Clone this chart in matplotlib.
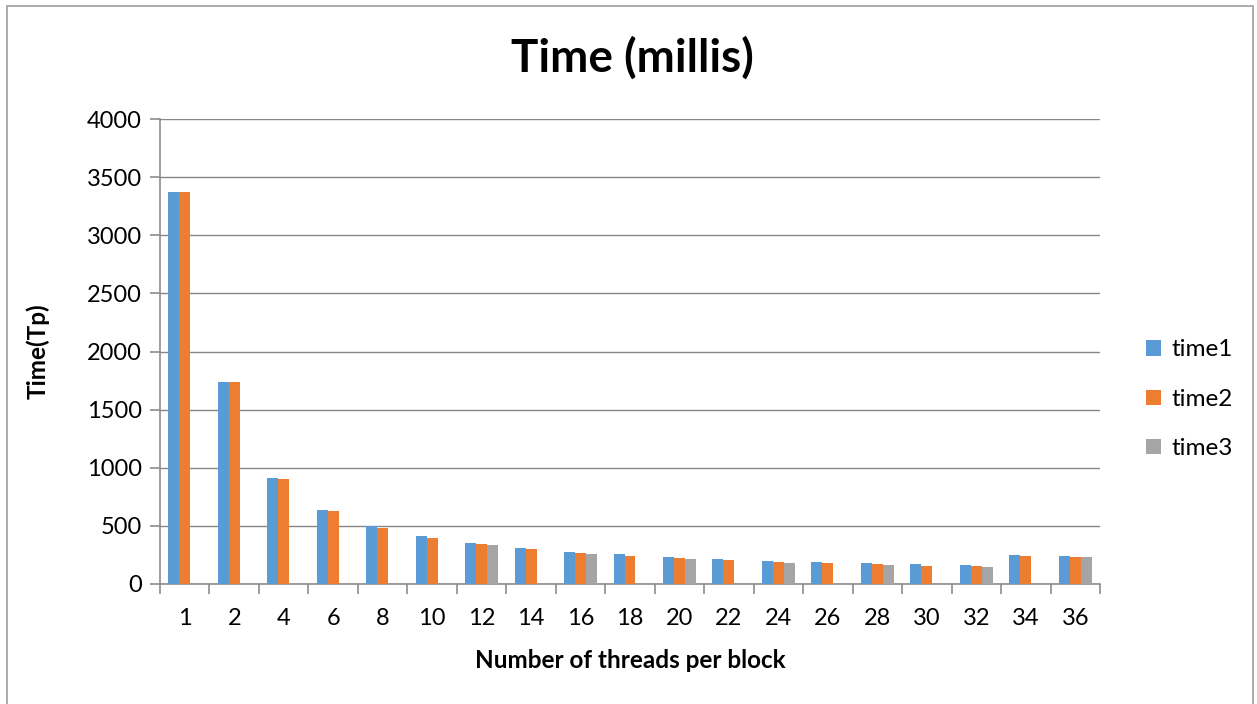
import matplotlib
matplotlib.use("Agg")
import matplotlib.pyplot as plt
import numpy as np
from matplotlib.patches import Rectangle

categories = ["1", "2", "4", "6", "8", "10", "12", "14", "16", "18",
              "20", "22", "24", "26", "28", "30", "32", "34", "36"]
time1 = [3370, 1740, 914, 636, 498, 410, 352, 313, 278, 255,
         229, 215, 201, 186, 178, 169, 161, 252, 244]
time2 = [3370, 1740, 903, 625, 485, 399, 341, 298, 264, 238,
         221, 204, 192, 178, 169, 158, 152, 244, 235]
time3 = [np.nan, np.nan, np.nan, np.nan, np.nan, np.nan, 338, np.nan, 261, np.nan,
         215, np.nan, 184, np.nan, 161, np.nan, 146, np.nan, 229]
yticks = [0, 500, 1000, 1500, 2000, 2500, 3000, 3500, 4000]

plt.rcParams['font.family'] = ['Lato', 'DejaVu Sans']

W, H = 1257, 704
fig = plt.figure(figsize=(W / 100, H / 100), dpi=100)
fig.patch.set_facecolor("white")

# chart frame
fig.patches.append(Rectangle((7 / W, -0.05), (1253 - 7) / W, 1 - 6 / H + 0.05,
                             transform=fig.transFigure, fill=False,
                             edgecolor="#A6A6A6", linewidth=1.3))

ax = fig.add_axes([160 / W, 1 - 584 / H, (1100 - 160) / W, (584 - 119) / H])
x = np.arange(len(categories))
w = 1 / 4.5
ax.bar(x - w, time1, w, color="#5B9BD5", label="time1", zorder=3)
ax.bar(x, time2, w, color="#ED7D31", label="time2", zorder=3)
ax.bar(x + w, time3, w, color="#A5A5A5", label="time3", zorder=3)

ax.set_xlim(-0.5, len(categories) - 0.5)
ax.set_ylim(0, 4000)
ax.set_yticks(yticks)
ax.set_yticklabels([str(v) for v in yticks])
ax.yaxis.grid(True, color="#868686", linewidth=1.0, zorder=0)
ax.set_xticks(x)
ax.set_xticklabels(categories)
ax.set_xticks(np.arange(len(categories) + 1) - 0.5, minor=True)
ax.tick_params(axis="x", which="major", length=0, labelsize=17, pad=17)
ax.tick_params(axis="x", which="minor", length=7, color="#8C8C8C", width=1.2)
ax.tick_params(axis="y", length=7, color="#8C8C8C", width=1.2, labelsize=17, pad=6)

for s in ["top", "right"]:
    ax.spines[s].set_visible(False)
for s in ["left", "bottom"]:
    ax.spines[s].set_color("#8C8C8C")
    ax.spines[s].set_linewidth(1.2)

fig.text(630 / W, 1 - 660 / H, "Number of threads per block", ha="center", va="center",
         fontsize=17.5, fontweight="bold")
fig.text(38 / W, 1 - 351 / H, "Time(Tp)", ha="center", va="center", rotation=90,
         fontsize=17.5, fontweight="bold")

fig.text(632 / W, 1 - 58 / H, "Time (millis)", ha="center", va="center",
         fontsize=33, fontweight="bold")

leg = ax.legend(loc="center left", bbox_to_anchor=(1.026, 0.397), frameon=False,
                fontsize=17.5, handlelength=0.6, handleheight=0.6,
                handletextpad=0.45, labelspacing=1.17)

fig.savefig("out.png", dpi=100, facecolor="white")
